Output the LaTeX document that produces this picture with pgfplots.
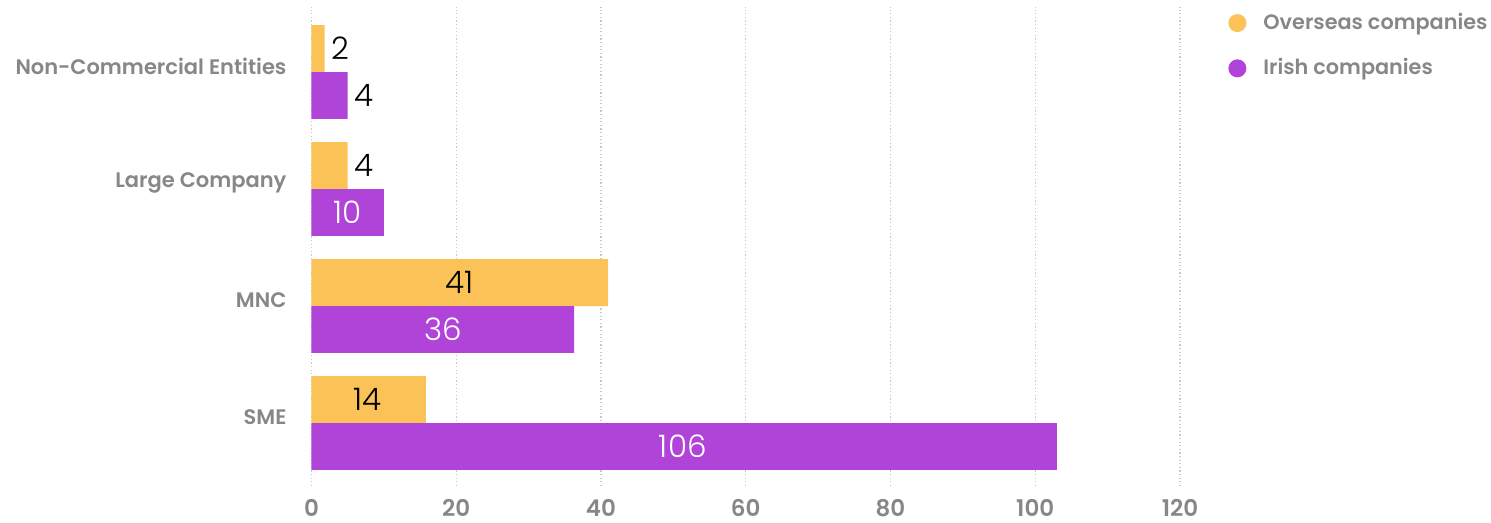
\documentclass[border=0pt]{standalone}
\usepackage{pgfplots}
\pgfplotsset{compat=1.18}
\usepackage{pgfplotstable}
\usepackage{fontspec}
\setmainfont{Poppins}
\newfontfamily\semib{Poppins SemiBold}
\newfontfamily\thin{Poppins Light}

\definecolor{oversea}{HTML}{FBC357}
\definecolor{irish}{HTML}{B044D8}
\definecolor{txtgray}{HTML}{878787}
\definecolor{gridgray}{HTML}{C8C8C8}

% bar lengths as drawn; y = category (0 SME ... 3 Non-Commercial) +/- 0.2
\pgfplotstableread{
pos val
3.2 1.8
2.2 5.0
1.2 41.0
0.2 15.8
}\overseas
\pgfplotstableread{
pos val
2.8 5.0
1.8 10.0
0.8 36.3
-0.2 103.0
}\irish

\begin{document}
\begin{tikzpicture}
\useasboundingbox (-155.75pt,-18.5pt) rectangle (589.75pt,243pt);
\begin{axis}[
  scale only axis, width=434.25pt, height=239.5pt,
  xmin=0, xmax=120, ymin=-0.538, ymax=3.556,
  xtick={0,20,...,120}, ytick={0,1,2,3},
  yticklabels={SME, MNC, Large Company, Non-Commercial Entities},
  xmajorgrids,
  grid style={gridgray, dash pattern=on 0.6pt off 1.2pt, line width=0.6pt},
  axis line style={draw=none}, major tick style={draw=none},
  /pgf/number format/assume math mode=true,
  xticklabel style={font=\semib\fontsize{11.5}{13}\selectfont, text=txtgray, yshift=-3pt},
  yticklabel style={font=\semib\fontsize{10.5}{12}\selectfont, text=txtgray, xshift=-9pt, yshift=3pt},
  legend style={at={(rel axis cs:1,1)}, anchor=north west, xshift=24pt, yshift=-1pt,
    draw=none, fill=none, inner sep=0pt, row sep=9pt,
    font=\semib\fontsize{10.4}{12}\selectfont, text=txtgray,
    /tikz/every odd column/.append style={column sep=6.5pt}},
  legend cell align=left,
  clip=false,
]
\addplot[xbar, bar width=0.4, fill=oversea, draw=none,
  legend image code/.code={\fill[oversea] (4.5pt,0pt) circle (4.5pt);}]
  table[x=val, y=pos] {\overseas};
\addlegendentry{Overseas companies}
\addplot[xbar, bar width=0.4, fill=irish, draw=none,
  legend image code/.code={\fill[irish] (4.5pt,0pt) circle (4.5pt);}]
  table[x=val, y=pos] {\irish};
\addlegendentry{Irish companies}

% value labels
\begin{scope}[every node/.style={font=\thin\fontsize{15.5}{17}\selectfont, text=black}]
\node[anchor=west] at (axis cs:1.8,3.2) {2};
\node[anchor=west] at (axis cs:5,2.8) {4};
\node[anchor=west] at (axis cs:5,2.2) {4};
\node[text=white] at (axis cs:5,1.8) {10};
\node at (axis cs:20.5,1.2) {41};
\node[text=white] at (axis cs:18.2,0.8) {36};
\node at (axis cs:7.8,0.2) {14};
\node[text=white] at (axis cs:51.3,-0.2) {106};
\end{scope}
\end{axis}
\end{tikzpicture}
\end{document}
